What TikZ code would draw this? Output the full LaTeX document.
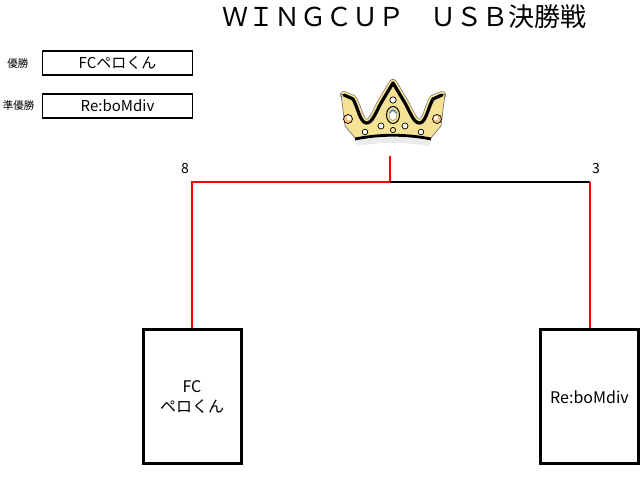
\documentclass[tikz,border=0pt]{standalone}
\usepackage{fontspec}
\setmainfont{Noto Sans CJK JP}
\definecolor{crownfill}{RGB}{246,226,150}
\definecolor{pearlorange}{RGB}{250,190,130}
\definecolor{jewelblue}{RGB}{70,110,220}
\tikzset{
  titletext/.style={font=\fontsize{26}{26}\selectfont, inner sep=0pt},
  smalllab/.style={font=\fontsize{10.5}{11}\selectfont, inner sep=0pt},
  namebox/.style={draw, line width=1.2pt, minimum width=150pt, minimum height=24pt, inner sep=0pt, font=\fontsize{15}{16}\selectfont},
  scorelab/.style={font=\fontsize{14}{14}\selectfont, inner sep=0pt},
  teambox/.style={draw, line width=3pt, minimum width=98pt, minimum height=134pt, inner sep=0pt, align=center, font=\fontsize{16}{20}\selectfont},
  winline/.style={draw=red, line width=2pt},
  loseline/.style={draw=black, line width=2pt},
  pearl/.style={fill=white, draw=black, line width=0.7pt},
}
\begin{document}
\begin{tikzpicture}[x=1pt, y=-1pt]
\useasboundingbox (0,0) rectangle (641,478);

% title
\node[titletext] (title) at (404.5,17) {ＷＩＮＧＣＵＰ　ＵＳＢ決勝戦};

% winner / runner-up
\node[smalllab] (l1) at (18,64) {優勝};
\node[smalllab] (l2) at (18.5,106) {準優勝};
\node[namebox] (win) at (117.5,63) {FCペロくん};
\node[namebox] (run) at (117.5,106) {Re:boMdiv};

% scores
\node[scorelab] (s8) at (185,169) {8};
\node[scorelab] (s3) at (596,169) {3};

% team boxes
\node[teambox] (t1) at (192,397) {FC\\ペロくん};
\node[teambox] (t2) at (589.5,397) {Re:boMdiv};

% bracket
\coordinate (top) at (390,156);
\coordinate (mid) at (390,182);
\coordinate (rc) at (589.5,182);
\draw[winline] (t1.north) |- (mid) -- (top);
\draw[loseline] (mid) -- (rc);
\draw[winline] (rc) -- (t2.north);

% crown
% yellow halo round the top outline
\draw[black!60, line width=8pt, line join=round, line cap=round]
  (344,95) -- (353,99) .. controls (358,108) and (360,122) .. (366,123)
  .. controls (372,124) and (376,112) .. (381,103) -- (393,83) -- (405,103)
  .. controls (410,112) and (414,124) .. (420,123)
  .. controls (426,122) and (428,108) .. (433,99) -- (442,95);
\draw[crownfill, line width=6.8pt, line join=round, line cap=round]
  (344,95) -- (353,99) .. controls (358,108) and (360,122) .. (366,123)
  .. controls (372,124) and (376,112) .. (381,103) -- (393,83) -- (405,103)
  .. controls (410,112) and (414,124) .. (420,123)
  .. controls (426,122) and (428,108) .. (433,99) -- (442,95);
% body
\filldraw[fill=crownfill, draw=black!60, line width=0.6pt]
  (341,94) -- (345,126) -- (356,139) -- (430,139) -- (441,126) -- (445,94)
  -- (433,99) .. controls (428,108) and (426,122) .. (420,123)
  .. controls (414,124) and (410,112) .. (405,103) -- (393,83) -- (381,103)
  .. controls (376,112) and (372,124) .. (366,123)
  .. controls (360,122) and (358,108) .. (353,99) -- cycle;
\fill[crownfill] (346,96) -- (352,100) -- (366,126) -- (420,126) -- (434,100) -- (440,96) -- (440,125) -- (346,125) -- cycle;
% black top outline
\draw[line width=3.2pt, line join=round, line cap=round]
  (344,95) -- (353,99) .. controls (358,108) and (360,122) .. (366,123)
  .. controls (372,124) and (376,112) .. (381,103) -- (393,83) -- (405,103)
  .. controls (410,112) and (414,124) .. (420,123)
  .. controls (426,122) and (428,108) .. (433,99) -- (442,95);
% base band
\fill[black!8] (355,139) .. controls (380,134) and (406,134) .. (431,139) -- (429,146) .. controls (405,142) and (381,142) .. (357,146) -- cycle;
\draw[line width=2.8pt] (355,139) .. controls (380,134) and (406,134) .. (431,139);
% jewels
\filldraw[fill=crownfill, draw=black, line width=1pt] (393,115) ellipse (6.5 and 8.5);
\filldraw[fill=white, draw=black!60, line width=0.4pt] (393,115) ellipse (4 and 5.5);
\draw[jewelblue, line width=1.2pt] (390,113) arc (200:340:3.2 and 4);
\filldraw[pearl] (393,100) circle (3.2);
\filldraw[pearl] (381,126) circle (3);
\filldraw[pearl] (405,126) circle (3);
\filldraw[pearl] (365,132) circle (2.8);
\filldraw[pearl] (421,132) circle (2.8);
\filldraw[fill=crownfill, draw=black, line width=0.7pt] (393,130) circle (2.6);
\filldraw[fill=pearlorange, draw=black, line width=0.7pt] (348,119) circle (4.5);
\fill[white] (349,118) circle (2.2);
\filldraw[fill=pearlorange, draw=black, line width=0.7pt] (437,119) circle (4.5);
\fill[white] (436,118) circle (2.2);
\end{tikzpicture}
\end{document}
